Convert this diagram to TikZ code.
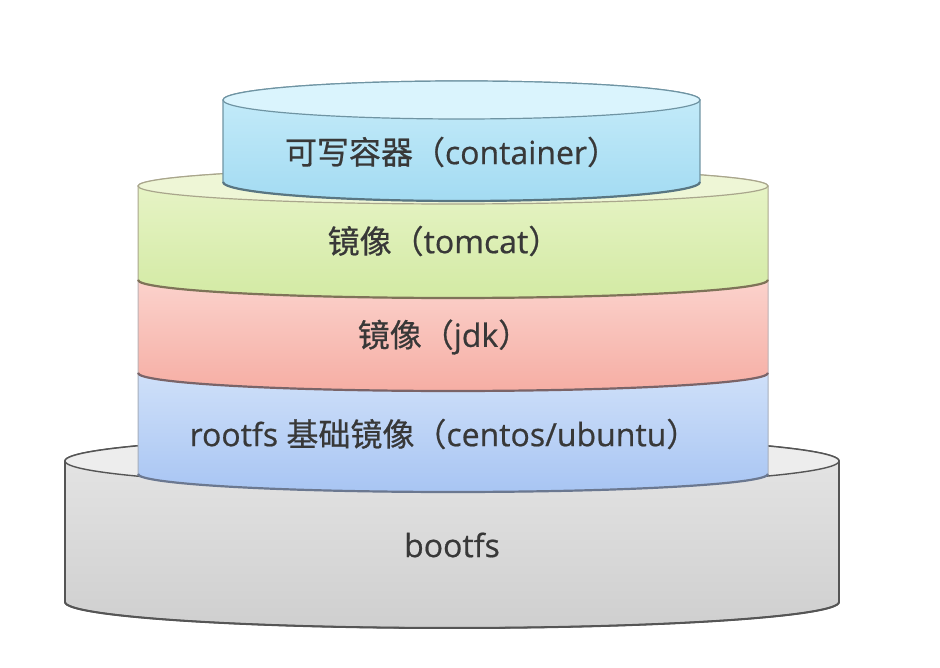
\documentclass[tikz,border=0pt]{standalone}
\usepackage{fontspec}
\setmainfont[FakeBold=0.6]{Open Sans}
\newfontfamily\cjk[FakeBold=0.6]{Noto Sans CJK SC}
\definecolor{txt}{HTML}{383838}
\definecolor{cyT}{HTML}{DAF4FD}\definecolor{cyA}{HTML}{C8EDFA}\definecolor{cyB}{HTML}{A3DBF2}\definecolor{cyL}{HTML}{6F94A3}
\definecolor{grT}{HTML}{EEF6D6}\definecolor{grA}{HTML}{E9F5CA}\definecolor{grB}{HTML}{D3EAA4}\definecolor{grL}{HTML}{A9A68C}\definecolor{grD}{HTML}{7E7358}
\definecolor{rdA}{HTML}{FBD2CC}\definecolor{rdB}{HTML}{F6AEA4}\definecolor{rdD}{HTML}{7A6468}
\definecolor{blA}{HTML}{CFE0F9}\definecolor{blB}{HTML}{A8C5F3}\definecolor{blD}{HTML}{6B7890}
\definecolor{gyT}{HTML}{EDEDED}\definecolor{gyA}{HTML}{E6E6E6}\definecolor{gyB}{HTML}{CFCFCF}\definecolor{gyL}{HTML}{555555}
\tikzset{
  lbl/.style={font=\fontsize{32}{36}\selectfont, text=txt, inner sep=0pt},
}
\begin{document}
\begin{tikzpicture}[x=1pt,y=1pt]
\fill[white] (0,0) rectangle (940,668);
\useasboundingbox (0,0) rectangle (940,668);
% bootfs
\draw[gyL, line width=1.6pt, top color=gyA, bottom color=gyB]
  (65,207) -- (65,66) arc[start angle=180,end angle=360,x radius=387,y radius=26]
  -- (839,207) arc[start angle=0,end angle=180,x radius=387,y radius=26] -- cycle;
\draw[gyL, line width=2pt] (65,66) arc[start angle=180,end angle=360,x radius=387,y radius=26];
\draw[gyL, line width=1.4pt, fill=gyT] (452,207) ellipse[x radius=387,y radius=26];
% blue rootfs
\draw[blD!60, line width=1pt, top color=blA, bottom color=blB]
  (138,295) -- (138,194) arc[start angle=180,end angle=360,x radius=315,y radius=18]
  -- (768,295) -- cycle;
\draw[blD, line width=2.2pt] (138,194) arc[start angle=180,end angle=360,x radius=315,y radius=18];
% red jdk
\draw[rdD!50, line width=1pt, top color=rdA, bottom color=rdB]
  (138,388) -- (138,295) arc[start angle=180,end angle=360,x radius=315,y radius=18]
  -- (768,388) -- cycle;
\draw[rdD, line width=2.2pt] (138,295) arc[start angle=180,end angle=360,x radius=315,y radius=18];
% green tomcat
\draw[grL, line width=1pt, top color=grA, bottom color=grB]
  (138,482) -- (138,388) arc[start angle=180,end angle=360,x radius=315,y radius=18]
  -- (768,482) arc[start angle=0,end angle=180,x radius=315,y radius=18] -- cycle;
\draw[grD, line width=2.2pt] (138,388) arc[start angle=180,end angle=360,x radius=315,y radius=18];
\draw[grL, line width=1.2pt, fill=grT] (453,482) ellipse[x radius=315,y radius=18];
% cyan container
\draw[cyL, line width=1.2pt, top color=cyA, bottom color=cyB]
  (223,568) -- (223,486) arc[start angle=180,end angle=360,x radius=238.5,y radius=19]
  -- (700,568) arc[start angle=0,end angle=180,x radius=238.5,y radius=19] -- cycle;
\draw[cyL!80!black, line width=2.2pt] (223,486) arc[start angle=180,end angle=360,x radius=238.5,y radius=19];
\draw[cyL, line width=1.2pt, fill=cyT] (461.5,568) ellipse[x radius=238.5,y radius=19];
% labels
\node[lbl] (container) at (452,516) {{\cjk 可写容器（}container{\cjk ）}};
\node[lbl] (tomcat) at (444,427) {{\cjk 镜像（}tomcat{\cjk ）}};
\node[lbl] (jdk) at (444,331) {{\cjk 镜像（}jdk{\cjk ）}};
\node[lbl] (rootfs) at (444,234) {rootfs {\cjk 基础镜像（}centos/ubuntu{\cjk ）}};
\node[lbl] (bootfs) at (452,123) {bootfs};
\end{tikzpicture}
\end{document}
